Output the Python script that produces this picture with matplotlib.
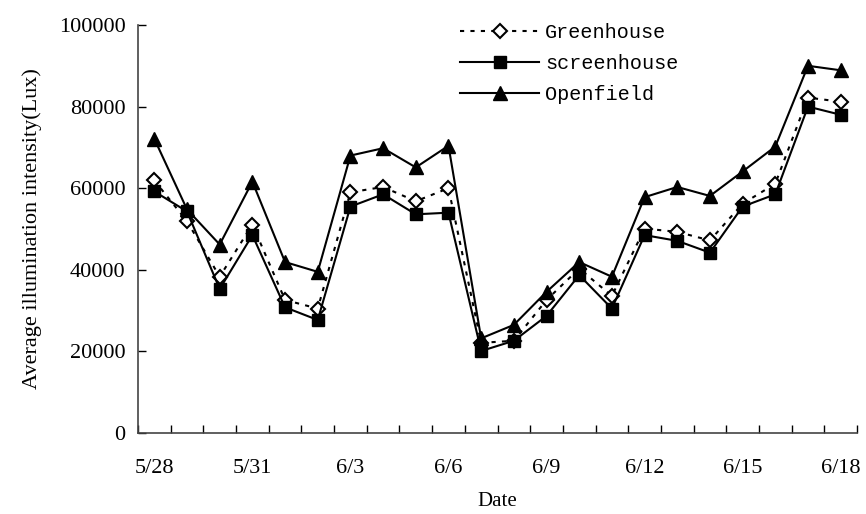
import numpy as np
import matplotlib
matplotlib.use("Agg")
import matplotlib.pyplot as plt

# daily average illumination, 5/28 - 6/18
dates = ['5/28', '5/29', '5/30', '5/31', '6/1', '6/2', '6/3', '6/4', '6/5', '6/6', '6/7',
         '6/8', '6/9', '6/10', '6/11', '6/12', '6/13', '6/14', '6/15', '6/16', '6/17', '6/18']
greenhouse = [61900, 51900, 38300, 51100, 32600, 30500, 59000, 60300, 56800, 60000, 22100,
              22600, 32600, 40300, 33600, 50100, 49300, 47200, 56200, 61100, 82200, 81200]
screenhouse = [59200, 54300, 35300, 48500, 30800, 27700, 55500, 58500, 53600, 54000, 20100,
               22600, 28700, 38700, 30500, 48500, 47100, 44200, 55500, 58500, 80000, 78000]
openfield = [72100, 54800, 46200, 61600, 41900, 39500, 68000, 69800, 65100, 70400, 23200,
             26500, 34600, 41900, 38300, 57800, 60300, 58100, 64100, 70200, 90000, 88900]

serif = 'Liberation Serif'

fig = plt.figure(figsize=(8.66, 5.14), dpi=100)
ax = fig.add_axes([138 / 866, 1 - 433 / 514, 719 / 866, 408 / 514])

x = np.arange(len(dates))
ax.plot(x, greenhouse, color='black', lw=1.5, ls=(0, (2, 3)), marker='D', ms=7.5,
        mfc='white', mec='black', mew=1.5, label='Greenhouse')
ax.plot(x, screenhouse, color='black', lw=1.5, marker='s', ms=8.5,
        mfc='black', mec='black', label='screenhouse')
ax.plot(x, openfield, color='black', lw=1.5, marker='^', ms=10,
        mfc='black', mec='black', label='Openfield')

ax.set_xlim(-0.5, len(dates) - 0.5)
ax.set_ylim(0, 100000)

ax.set_xticks(x[::3])
ax.set_xticklabels(dates[::3], fontsize=16, family=serif)
ax.set_xticks(np.arange(-0.5, len(dates)), minor=True)
ax.tick_params(axis='x', which='major', length=0, pad=19)
ax.tick_params(axis='x', which='minor', direction='in', length=6, width=1)

ax.set_yticks(np.arange(0, 100001, 20000))
ax.set_yticklabels([str(v) for v in range(0, 100001, 20000)], fontsize=16, family=serif)
ax.tick_params(axis='y', direction='in', length=6, width=1, pad=9)

for s in ['top', 'right']:
    ax.spines[s].set_visible(False)
for s in ['left', 'bottom']:
    ax.spines[s].set_linewidth(1.2)
    ax.spines[s].set_color('#444444')

ax.set_xlabel('Date', fontsize=15, family=serif, labelpad=10)
ax.set_ylabel('Average illumination intensity(Lux)', fontsize=16, family=serif, labelpad=12)

leg = ax.legend(loc='upper left', bbox_to_anchor=(0.423, 1.05), frameon=False,
                prop={'family': 'Liberation Mono', 'size': 14.5},
                handlelength=3.9, handletextpad=0.3, labelspacing=0.6)

fig.savefig('out.png', dpi=100)
